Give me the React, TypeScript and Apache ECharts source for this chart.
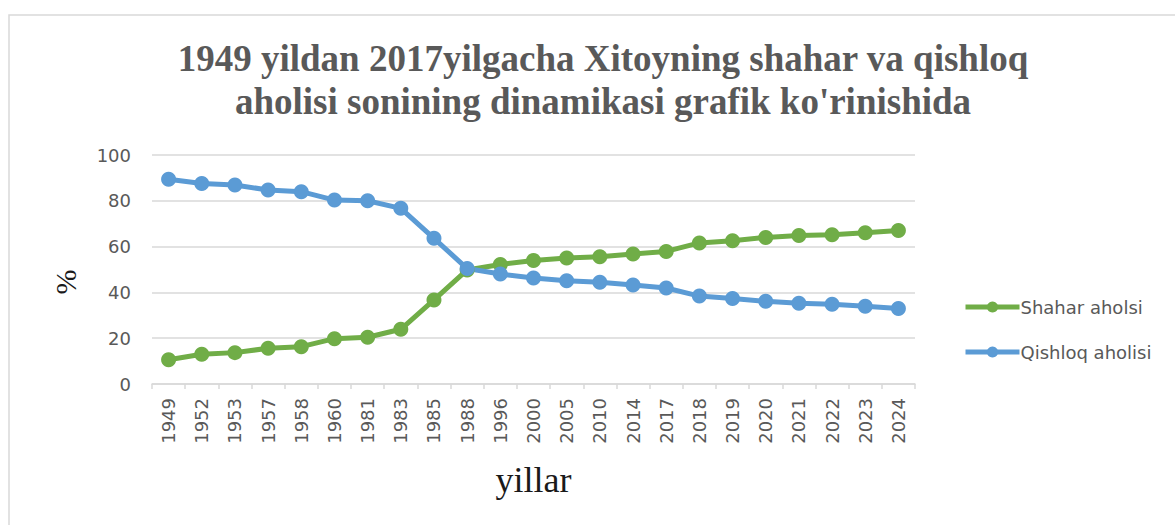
import React, { useEffect, useRef } from "react";
import * as echarts from "echarts";

const years = ["1949","1952","1953","1957","1958","1960","1981","1983","1985","1988","1996","2000","2005","2010","2014","2017","2018","2019","2020","2021","2022","2023","2024"];
const shahar = [10.6,13.0,13.7,15.6,16.3,19.8,20.4,23.9,36.7,49.8,52.2,53.9,55.0,55.6,56.8,57.9,61.6,62.6,64.0,64.8,65.2,66.1,67.0];
const qishloq = [89.4,87.6,86.9,84.7,84.0,80.3,80.0,76.7,63.6,50.4,48.0,46.3,45.1,44.4,43.2,41.9,38.4,37.3,36.1,35.3,34.8,33.9,33.0];
const titleLines = ["1949 yildan 2017yilgacha Xitoyning shahar va qishloq", "aholisi sonining dinamikasi grafik ko'rinishida"];

export default function App() {
  const ref = useRef<HTMLDivElement>(null);
  useEffect(() => {
    if (!ref.current) return;
    const chart = echarts.init(ref.current, null, { renderer: "svg" });
    const grey = "#595959";
    chart.setOption({
      animation: false,
      backgroundColor: "#ffffff",
      title: {
        text: titleLines.join("\n"),
        left: 598,
        top: 32,
        textAlign: "center",
        textStyle: {
          fontFamily: "Liberation Serif",
          fontWeight: "bold",
          fontSize: 37,
          lineHeight: 43,
          color: grey,
        },
      },
      graphic: [
        {
          type: "rect",
          shape: { x: 9, y: 15, width: 1200, height: 560 },
          style: { fill: "none", stroke: "#d9d9d9", lineWidth: 1.5 },
          silent: true,
        },
        {
          type: "text",
          x: 65,
          y: 282,
          rotation: Math.PI / 2,
          style: {
            text: "%",
            fontFamily: "Liberation Serif",
            fontSize: 30,
            fill: "#1a1a1a",
            align: "center",
            verticalAlign: "middle",
          },
          silent: true,
        },
      ],
      legend: {
        orient: "vertical",
        left: 958,
        top: 293,
        itemWidth: 54,
        itemHeight: 14,
        itemGap: 27,
        lineStyle: { width: 5 },
        textStyle: { color: grey, fontSize: 18, fontFamily: "DejaVu Sans", padding: [0, 0, 0, -4] },
        data: ["Shahar aholsi", "Qishloq aholisi"],
      },
      grid: { left: 152, right: 260, top: 155, bottom: 141 },
      xAxis: {
        type: "category",
        data: years,
        boundaryGap: true,
        name: "yillar",
        nameLocation: "middle",
        nameGap: 78,
        nameTextStyle: { fontFamily: "Liberation Serif", fontSize: 36, color: "#1a1a1a" },
        axisLine: { lineStyle: { color: "#d9d9d9", width: 1.5 } },
        axisTick: { show: true, alignWithLabel: false, length: 5, lineStyle: { color: "#d9d9d9", width: 1.5 } },
        axisLabel: { rotate: 90, color: grey, fontSize: 18, fontFamily: "DejaVu Sans", margin: 14, interval: 0 },
        splitLine: { show: false },
      },
      yAxis: {
        type: "value",
        min: 0,
        max: 100,
        interval: 20,
        axisLine: { show: false },
        axisTick: { show: false },
        axisLabel: { color: grey, fontSize: 18, fontFamily: "DejaVu Sans", margin: 21 },
        splitLine: { lineStyle: { color: "#d9d9d9", width: 1.5 } },
      },
      series: [
        {
          name: "Shahar aholsi",
          type: "line",
          data: shahar,
          symbol: "circle",
          symbolSize: 15,
          lineStyle: { color: "#70ad47", width: 5 },
          itemStyle: { color: "#70ad47" },
        },
        {
          name: "Qishloq aholisi",
          type: "line",
          data: qishloq,
          symbol: "circle",
          symbolSize: 15,
          lineStyle: { color: "#5b9bd5", width: 5 },
          itemStyle: { color: "#5b9bd5" },
        },
      ],
    });
    return () => chart.dispose();
  }, []);
  return <div ref={ref} style={{ position: "fixed", left: 0, top: 0, width: 1175, height: 525 }} />;
}
